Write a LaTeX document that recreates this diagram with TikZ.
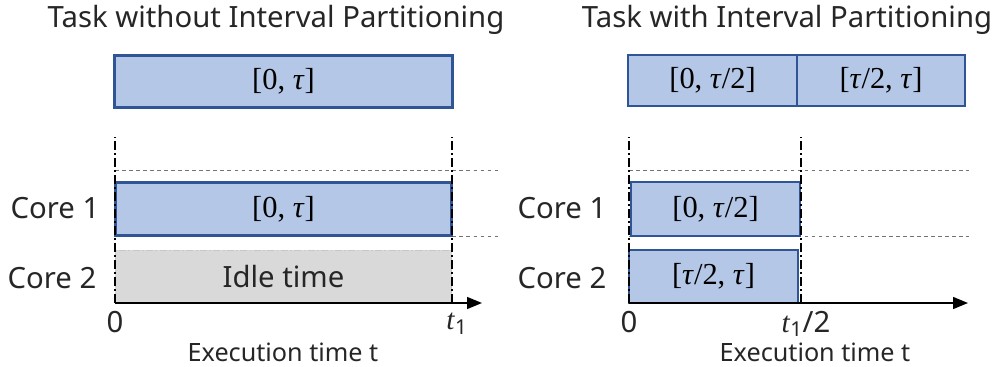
\documentclass[tikz,border=0pt]{standalone}
\usepackage[no-math]{fontspec}
\setmainfont{Noto Sans}
\newfontfamily\timesfont{Liberation Serif}
\usetikzlibrary{arrows.meta}
\definecolor{boxfill}{RGB}{180,199,231}
\definecolor{boxline}{RGB}{47,85,151}
\definecolor{idlefill}{RGB}{217,217,217}

\begin{document}
\begin{tikzpicture}[x=0.03cm,y=-0.03cm,every node/.style={font=\fontsize{25}{28}\selectfont,inner sep=0pt,text=black!85},
  taskbox/.style={draw=boxline,fill=boxfill,line width=2.2pt,text=black,font=\fontsize{26}{29}\selectfont\timesfont},
  idlebox/.style={draw=black!22,fill=idlefill,line width=0.8pt,dash pattern=on 6pt off 2pt on 1.5pt off 2pt},
  marker/.style={black,line width=1.6pt,dash pattern=on 8pt off 2.5pt on 1.5pt off 2.5pt},
  guide/.style={black!55,line width=0.6pt,dashed},
  timeaxis/.style={black,line width=1.2pt,-{Triangle[length=4.5mm,width=3.6mm]}}]
\useasboundingbox (0,0) rectangle (1008,367);
% titles
\node (titleA) at (276,20) {Task without Interval Partitioning};
\node (titleB) at (787,20) {Task with Interval Partitioning};
% guide lines
\draw[guide] (115,170) -- (500,170);
\draw[guide] (115,236) -- (500,236);
\draw[guide] (629,170) -- (969,170);
\draw[guide] (629,236) -- (969,236);
% left: task and schedule
\node[taskbox,minimum width=10.14cm,minimum height=1.56cm] (taskA) at (283.5,81.5) {[0, \textit{τ}]};
\node[taskbox,minimum width=10.08cm,minimum height=1.58cm] (coreA1) at (283.5,209) {[0, \textit{τ}]};
\node[idlebox,minimum width=10.08cm,minimum height=1.58cm] (coreA2) at (283.5,276.5) {Idle time};
% right: partitioned task and schedule
\node[taskbox,minimum width=5.07cm,minimum height=1.53cm] (taskB1) at (712.5,80.5) {[0, \textit{τ}/2]};
\node[taskbox,minimum width=5.04cm,minimum height=1.53cm] (taskB2) at (881,80.5) {[\textit{τ}/2, \textit{τ}]};
\node[taskbox,minimum width=5.07cm,minimum height=1.62cm] (coreB1) at (715.5,209) {[0, \textit{τ}/2]};
\node[taskbox,minimum width=5.07cm,minimum height=1.59cm] (coreB2) at (713.5,276.5) {[\textit{τ}/2, \textit{τ}]};
% markers at 0 and end time
\coordinate (zeroA) at (115,303);
\coordinate (endA) at (452,303);
\coordinate (zeroB) at (629,303);
\coordinate (endB) at (801,303);
\draw[marker] (zeroA) -- (115,137);
\draw[marker] (endA) -- (452,137);
\draw[marker] (zeroB) -- (629,137);
\draw[marker] (endB) -- (801,137);
% time axes
\coordinate (tipA) at (482,303);
\coordinate (tipB) at (968,303);
\draw[timeaxis] (zeroA) -- (tipA);
\draw[timeaxis] (zeroB) -- (tipB);
% core labels
\node (labA1) at (55,208) {Core 1};
\node (labA2) at (52,278) {Core 2};
\node (labB1) at (562,208) {Core 1};
\node (labB2) at (562,278) {Core 2};
% axis labels
\node (zeroLabA) at (115,322) {0};
\node (endLabA) at (457,324) {{\timesfont\textit{t}}\textsubscript{1}};
\node (axisLabA) at (283,352) {\fontsize{21.5}{24}\selectfont Execution time t};
\node (zeroLabB) at (629,322) {0};
\node (endLabB) at (806,324) {{\timesfont\textit{t}}\textsubscript{1}/2};
\node (axisLabB) at (815,352) {\fontsize{21.5}{24}\selectfont Execution time t};
\end{tikzpicture}
\end{document}
